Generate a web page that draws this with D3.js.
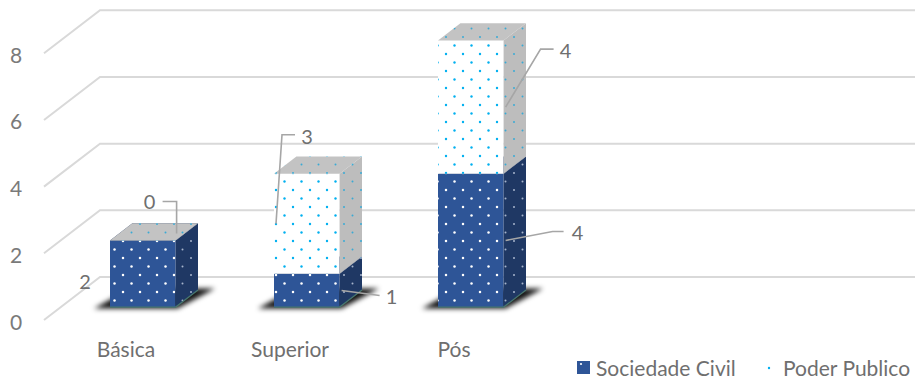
<!DOCTYPE html>
<html>
<head>
<meta charset="utf-8">
<script src="https://cdn.jsdelivr.net/npm/d3@7"></script>
<style>
  body { margin: 0; background: #fff; }
  svg { display: block; font-family: Lato, "Open Sans", sans-serif; }
</style>
</head>
<body>
<svg id="chart" width="915" height="380"></svg>
<script>
// Chart data
const categories = ["Básica", "Superior", "Pós"];
const seriesNames = ["Sociedade Civil", "Poder Publico"];
const sociedadeCivil = [2, 1, 4];
const poderPublico = [0, 3, 4];
const yTicks = [0, 2, 4, 6, 8];

// Data label placement: pixel offset of each label from its segment anchor
const labelLayout = [
  { cat: "Básica",   series: "Sociedade Civil", dx: -27, dy: 7,   leader: "none", side: "left" },
  { cat: "Básica",   series: "Poder Publico",   dx: -27, dy: -32, leader: "elbowLeft" },
  { cat: "Superior", series: "Poder Publico",   dx: 31,  dy: -88, leader: "elbowRight", side: "left" },
  { cat: "Superior", series: "Sociedade Civil", dx: 50,  dy: 6,   leader: "straight" },
  { cat: "Pós",      series: "Poder Publico",   dx: 60,  dy: -57, leader: "elbowRight" },
  { cat: "Pós",      series: "Sociedade Civil", dx: 72,  dy: -8,  leader: "straightElbow" }
];

const W = 915, H = 380;
const svg = d3.select("#chart");

// 3D projection: depth d in [0,1] shifts points back and up
const DEPTH_X = 56, DEPTH_Y = -43;
const proj = (x, y, d) => [x + DEPTH_X * d, y + DEPTH_Y * d];
const D0 = 0.3, D1 = 0.7;

const y = d3.scaleLinear().domain([0, 8]).range([320, 53.3]);
const x = d3.scaleBand().domain(categories).range([44, 536])
  .paddingInner(0.6).paddingOuter(0.3);

const rows = categories.map((c, i) => ({
  cat: c, "Sociedade Civil": sociedadeCivil[i], "Poder Publico": poderPublico[i]
}));
const stacked = d3.stack().keys(seriesNames)(rows);

// Patterns
const defs = svg.append("defs");
function dotPattern(id, bg, dot, r, op) {
  const p = defs.append("pattern").attr("id", id)
    .attr("patternUnits", "userSpaceOnUse")
    .attr("width", 17).attr("height", 17);
  p.append("rect").attr("width", 17).attr("height", 17).attr("fill", bg);
  [[4, 3], [12.5, 11.5]].forEach(([cx, cy]) =>
    p.append("circle").attr("cx", cx).attr("cy", cy).attr("r", r)
      .attr("fill", dot).attr("opacity", op));
}
dotPattern("scFront", "#2e5597", "#ffffff", 1.25, 1);
dotPattern("scSide", "#1f3864", "#c9d3e6", 1.0, 0.8);
dotPattern("ppFront", "#ffffff", "#00b0f0", 1.2, 1);
dotPattern("ppSide", "#bdbdbd", "#2aa8d8", 1.0, 0.9);
dotPattern("ppTop", "#c3c3c3", "#2aa8d8", 1.0, 0.9);

defs.append("filter").attr("id", "shadowBlur")
  .attr("x", "-20%").attr("y", "-50%").attr("width", "140%").attr("height", "200%")
  .append("feGaussianBlur").attr("stdDeviation", 2.6);

const fills = {
  "Sociedade Civil": { front: "url(#scFront)", side: "url(#scSide)", top: "url(#scSide)" },
  "Poder Publico":   { front: "url(#ppFront)", side: "url(#ppSide)", top: "url(#ppTop)" }
};

// Gridlines: side wall diagonal + back wall horizontal
const grid = svg.append("g").attr("fill", "none").attr("stroke", "#d9d9d9").attr("stroke-width", 2);
yTicks.forEach(t => {
  const f = proj(44, y(t), 0), b = proj(44, y(t), 1);
  grid.append("polyline").attr("points", [f, b, [W, b[1]]].map(p => p.join(",")).join(" "));
});

// Y axis labels
svg.append("g").selectAll("text").data(yTicks).join("text")
  .attr("x", 16).attr("y", d => y(d) + 1)
  .attr("text-anchor", "middle").attr("dominant-baseline", "central")
  .attr("font-size", 21).attr("fill", "#7a7a7a").text(d => d);

// Floor shadows under each column
const shadows = svg.append("g").attr("filter", "url(#shadowBlur)");
categories.forEach(c => {
  const xb = x(c), bw = x.bandwidth();
  const fl = proj(xb, y(0), D0), fr = proj(xb + bw, y(0), D0);
  const br = proj(xb + bw, y(0), D1);
  const pts = [[fl[0] - 16, fl[1] + 1.5], [fr[0] + 2, fr[1] + 1.5],
               [br[0] + 17, br[1] - 1.5], [fl[0] + 20, br[1] - 1.5]];
  shadows.append("polygon").attr("points", pts.map(p => p.join(",")).join(" "))
    .attr("fill", "#000").attr("opacity", 0.92);
});

// Columns: each stacked segment drawn as front, side and top faces
const bars = svg.append("g");
categories.forEach((c, i) => {
  const xb = x(c), bw = x.bandwidth();
  stacked.forEach(layer => {
    const [v0, v1] = layer[i];
    const f = fills[layer.key];
    const yt = y(v1), yb = y(v0);
    const ftl = proj(xb, yt, D0);
    bars.append("rect").attr("x", ftl[0]).attr("y", ftl[1])
      .attr("width", bw).attr("height", Math.max(0, yb - yt)).attr("fill", f.front);
    const side = [proj(xb + bw, yt, D0), proj(xb + bw, yt, D1), proj(xb + bw, yb, D1), proj(xb + bw, yb, D0)];
    bars.append("polygon").attr("points", side.map(p => p.join(",")).join(" ")).attr("fill", f.side);
    const top = [proj(xb, yt, D0), proj(xb + bw, yt, D0), proj(xb + bw, yt, D1), proj(xb, yt, D1)];
    bars.append("polygon").attr("points", top.map(p => p.join(",")).join(" ")).attr("fill", f.top);
  });
  // thin edge where the column meets the floor
  const a = proj(xb, y(0), D0), b = proj(xb + bw, y(0), D0), d = proj(xb + bw, y(0), D1);
  bars.append("polyline").attr("points", [a, b, d].map(p => p.join(",")).join(" "))
    .attr("fill", "none").attr("stroke", "#47766f").attr("stroke-width", 1.3);
});

// Data labels with leader lines
const labels = svg.append("g");
labelLayout.forEach(L => {
  const i = categories.indexOf(L.cat);
  const layer = stacked.find(s => s.key === L.series);
  const [v0, v1] = layer[i];
  const xb = x(L.cat), bw = x.bandwidth();
  let anchor;
  if (L.leader === "elbowLeft") {
    anchor = proj(xb + bw, y(v1), D0); anchor = [anchor[0] + 1, anchor[1] - 7];
  } else if (L.side === "left") {
    anchor = proj(xb, y((v0 + v1) / 2), D0); anchor = [anchor[0] + 2, anchor[1]];
  } else {
    anchor = proj(xb + bw, y((v0 + v1) / 2), D0); anchor = [anchor[0] + 2, anchor[1]];
  }
  const lx = anchor[0] + L.dx, ly = anchor[1] + L.dy;
  let pts = null;
  if (L.leader === "elbowLeft") pts = [[lx + 13, ly], [anchor[0], ly], anchor];
  if (L.leader === "elbowRight") pts = [[lx - 12, ly - 1], [lx - 25, ly - 1], anchor];
  if (L.leader === "straight") pts = [anchor, [lx - 12, ly - 1]];
  if (L.leader === "straightElbow") pts = [anchor, [lx - 25, ly - 1], [lx - 14, ly - 1]];
  if (pts) labels.append("polyline").attr("points", pts.map(p => p.join(",")).join(" "))
    .attr("fill", "none").attr("stroke", "#a6a6a6").attr("stroke-width", 1.6);
  labels.append("text").attr("x", lx).attr("y", ly)
    .attr("text-anchor", "middle").attr("dominant-baseline", "central")
    .attr("font-size", 20).attr("fill", "#6f6f6f").text(v1 - v0);
});

// Category labels
svg.append("g").selectAll("text").data(categories).join("text")
  .attr("x", d => x(d) + x.bandwidth() / 2).attr("y", 357)
  .attr("text-anchor", "middle").attr("font-size", 21).attr("fill", "#6f6f6f").text(d => d);

// Legend
const leg = svg.append("g");
leg.append("rect").attr("x", 577).attr("y", 361).attr("width", 13).attr("height", 13).attr("fill", "#2e5597");
leg.append("circle").attr("cx", 581).attr("cy", 364).attr("r", 1.1).attr("fill", "#fff");
leg.append("text").attr("x", 596).attr("y", 376).attr("font-size", 21).attr("fill", "#6f6f6f").text(seriesNames[0]);
leg.append("circle").attr("cx", 769).attr("cy", 368).attr("r", 1.2).attr("fill", "#00b0f0");
leg.append("text").attr("x", 783).attr("y", 376).attr("font-size", 21).attr("fill", "#6f6f6f").text(seriesNames[1]);
</script>
</body>
</html>
